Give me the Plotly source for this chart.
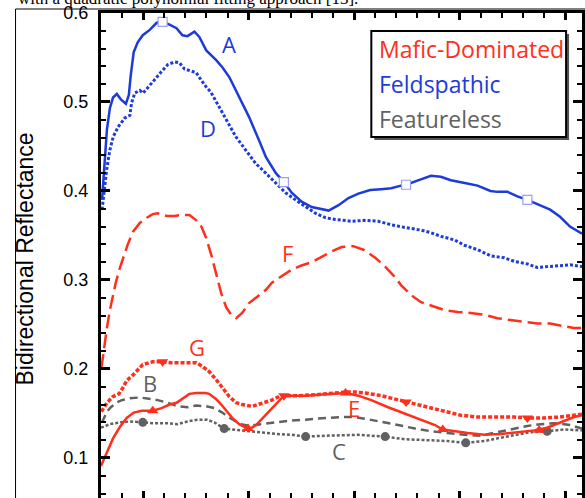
import plotly.graph_objects as go

BLUE = "#1c3bd9"
RED = "#ff2f1c"
GRAY = "#616161"

# ---- data (x: wavelength-like axis, y: bidirectional reflectance) ----
A_x = [0.305,0.314,0.328,0.342,0.357,0.375,0.394,0.418,0.432,0.441,0.455,0.474,0.498,0.531,0.564,0.592,0.625,0.658,0.686,0.710,0.743,0.766,0.799,0.846,0.875,0.908,0.955,1.002,1.049,1.082,1.129,1.167,1.204,1.251,1.299,1.346,1.379,1.426,1.473,1.520,1.576,1.628,1.675,1.723,1.746,1.803,1.864,1.911,1.958,2.024,2.085,2.146,2.179,2.227,2.274,2.321,2.368,2.429,2.476,2.523,2.580]
A_y = [0.390,0.424,0.469,0.493,0.505,0.509,0.503,0.498,0.508,0.530,0.556,0.567,0.575,0.581,0.589,0.590,0.587,0.583,0.575,0.574,0.579,0.573,0.558,0.547,0.539,0.528,0.506,0.483,0.457,0.438,0.420,0.410,0.398,0.388,0.382,0.380,0.378,0.384,0.392,0.397,0.401,0.402,0.403,0.406,0.407,0.412,0.417,0.416,0.412,0.409,0.406,0.400,0.399,0.399,0.394,0.390,0.385,0.379,0.371,0.360,0.352]
A_mx = [0.592,1.167,1.746,2.321]
A_my = [0.590,0.410,0.407,0.390]

D_x = [0.305,0.311,0.327,0.342,0.358,0.381,0.413,0.437,0.445,0.460,0.484,0.499,0.523,0.554,0.586,0.617,0.649,0.672,0.696,0.727,0.751,0.774,0.798,0.821,0.853,0.892,0.939,0.986,1.033,1.081,1.128,1.175,1.222,1.269,1.316,1.363,1.410,1.487,1.552,1.614,1.677,1.740,1.818,1.865,1.912,1.975,2.023,2.085,2.148,2.211,2.258,2.321,2.368,2.415,2.478,2.525,2.580]
D_y = [0.379,0.393,0.424,0.446,0.461,0.472,0.482,0.485,0.499,0.510,0.513,0.510,0.517,0.525,0.534,0.542,0.545,0.544,0.537,0.535,0.533,0.525,0.517,0.511,0.497,0.480,0.461,0.446,0.431,0.420,0.409,0.398,0.390,0.382,0.375,0.370,0.368,0.366,0.367,0.366,0.362,0.359,0.356,0.353,0.349,0.345,0.339,0.334,0.327,0.325,0.321,0.318,0.314,0.315,0.316,0.317,0.315]

F_x = [0.302,0.314,0.328,0.342,0.357,0.371,0.390,0.408,0.427,0.451,0.484,0.517,0.545,0.569,0.611,0.649,0.682,0.719,0.752,0.776,0.799,0.823,0.846,0.870,0.894,0.917,0.941,0.969,1.002,1.040,1.082,1.110,1.153,1.200,1.247,1.299,1.346,1.393,1.440,1.496,1.544,1.600,1.647,1.694,1.723,1.770,1.817,1.883,1.930,1.991,2.052,2.118,2.179,2.241,2.307,2.368,2.429,2.495,2.542,2.580]
F_y = [0.201,0.224,0.246,0.266,0.283,0.298,0.314,0.328,0.340,0.354,0.364,0.370,0.374,0.375,0.372,0.372,0.373,0.373,0.367,0.360,0.347,0.328,0.308,0.285,0.269,0.261,0.257,0.263,0.274,0.281,0.289,0.297,0.304,0.311,0.316,0.320,0.326,0.332,0.337,0.338,0.334,0.325,0.315,0.303,0.294,0.283,0.275,0.270,0.266,0.264,0.263,0.261,0.257,0.255,0.253,0.251,0.251,0.248,0.246,0.246]

G_x = [0.302,0.328,0.357,0.385,0.404,0.422,0.451,0.498,0.545,0.592,0.634,0.672,0.705,0.752,0.780,0.813,0.846,0.875,0.908,0.941,0.969,1.016,1.063,1.110,1.153,1.204,1.237,1.317,1.393,1.459,1.506,1.553,1.628,1.694,1.746,1.803,1.864,1.930,2.005,2.085,2.165,2.259,2.321,2.401,2.476,2.542,2.580]
G_y = [0.152,0.162,0.169,0.172,0.179,0.187,0.193,0.205,0.208,0.208,0.207,0.207,0.207,0.207,0.203,0.197,0.188,0.179,0.169,0.162,0.160,0.158,0.162,0.165,0.170,0.170,0.170,0.171,0.173,0.174,0.174,0.173,0.170,0.166,0.163,0.160,0.156,0.152,0.148,0.146,0.146,0.146,0.145,0.145,0.146,0.148,0.149]
G_mx = [0.592,1.167,1.746,2.321]
G_my = [0.208,0.170,0.163,0.145]

E_x = [0.300,0.314,0.333,0.357,0.390,0.422,0.455,0.493,0.545,0.587,0.625,0.658,0.686,0.719,0.752,0.795,0.813,0.846,0.870,0.894,0.922,0.955,0.988,1.007,1.035,1.063,1.096,1.129,1.167,1.204,1.270,1.332,1.393,1.459,1.520,1.581,1.661,1.741,1.817,1.883,1.920,1.977,2.038,2.118,2.194,2.274,2.354,2.415,2.476,2.542,2.580]
E_y = [0.091,0.098,0.109,0.122,0.135,0.145,0.151,0.153,0.153,0.156,0.160,0.162,0.167,0.172,0.173,0.173,0.172,0.166,0.160,0.153,0.145,0.138,0.134,0.133,0.137,0.144,0.152,0.161,0.170,0.170,0.170,0.171,0.172,0.173,0.170,0.165,0.157,0.150,0.143,0.137,0.132,0.130,0.128,0.126,0.127,0.129,0.131,0.134,0.140,0.146,0.148]
E_mx = [0.545,0.997,1.459,1.920,2.377]
E_my = [0.153,0.133,0.173,0.132,0.131]

B_x = [0.305,0.314,0.328,0.347,0.371,0.399,0.437,0.484,0.521,0.569,0.616,0.663,0.710,0.752,0.799,0.837,0.875,0.917,0.964,1.002,1.058,1.120,1.204,1.270,1.365,1.459,1.496,1.553,1.628,1.708,1.789,1.864,1.944,2.024,2.099,2.165,2.241,2.321,2.382,2.453,2.523,2.580]
B_y = [0.140,0.145,0.152,0.157,0.162,0.165,0.167,0.168,0.167,0.165,0.162,0.158,0.157,0.159,0.158,0.156,0.151,0.144,0.138,0.136,0.138,0.140,0.142,0.143,0.145,0.146,0.146,0.144,0.141,0.137,0.133,0.130,0.128,0.126,0.125,0.128,0.132,0.136,0.138,0.139,0.137,0.133]

C_x = [0.300,0.342,0.390,0.437,0.498,0.554,0.611,0.663,0.710,0.757,0.804,0.837,0.884,0.964,1.049,1.129,1.204,1.270,1.365,1.459,1.520,1.581,1.647,1.741,1.836,1.944,2.029,2.118,2.179,2.259,2.335,2.415,2.495,2.580]
C_y = [0.134,0.138,0.140,0.141,0.140,0.139,0.139,0.138,0.141,0.143,0.143,0.140,0.133,0.131,0.129,0.127,0.126,0.124,0.125,0.126,0.126,0.125,0.124,0.121,0.120,0.119,0.117,0.119,0.122,0.126,0.129,0.130,0.132,0.131]
C_mx = [0.498,0.884,1.270,1.647,2.029,2.415]
C_my = [0.140,0.133,0.124,0.124,0.117,0.130]

legend_labels = ["Mafic-Dominated", "Feldspathic", "Featureless"]
legend_colors = [RED, BLUE, GRAY]
curve_labels = ["A", "D", "F", "G", "B", "E", "C"]

fig = go.Figure()

def line(x, y, color, width, dash):
    fig.add_trace(go.Scatter(x=x, y=y, mode="lines",
                             line=dict(color=color, width=width, dash=dash),
                             showlegend=False, hoverinfo="skip"))

def marks(x, y, symbol, size, color, lcolor=None, lwidth=0):
    fig.add_trace(go.Scatter(x=x, y=y, mode="markers",
                             marker=dict(symbol=symbol, size=size, color=color,
                                         line=dict(color=lcolor or color, width=lwidth)),
                             showlegend=False, hoverinfo="skip"))

line(C_x, C_y, GRAY, 2.5, "3px,2px")
marks(C_mx, C_my, "circle", 9, GRAY)
line(B_x, B_y, GRAY, 2.5, "8px,5px")
line(E_x, E_y, RED, 2.5, "solid")
marks(E_mx, E_my, "triangle-up", 10, RED)
line(G_x, G_y, RED, 3.5, "4px,2px")
marks(G_mx, G_my, "triangle-down", 10, RED)
line(F_x, F_y, RED, 2.5, "14px,6px")
line(D_x, D_y, BLUE, 3, "3px,2px")
line(A_x, A_y, BLUE, 2.5, "solid")
marks(A_mx, A_my, "square", 9, "white", "#9c9cff", 1.2)

# curve labels
label_pos = {"A": (0.908, 0.565, BLUE), "D": (0.809, 0.471, BLUE),
             "F": (1.186, 0.330, RED), "G": (0.757, 0.225, RED),
             "B": (0.531, 0.184, GRAY), "E": (1.501, 0.156, RED),
             "C": (1.426, 0.108, GRAY)}
for lab in curve_labels:
    x, y, c = label_pos[lab]
    fig.add_annotation(x=x, y=y, xref="x", yref="y", text=lab, showarrow=False,
                       font=dict(family="Open Sans", size=22, color=c))

# legend box with shadow
fig.add_shape(type="rect", xref="paper", yref="paper", x0=0.5682, x1=0.9731, y0=0.7381, y1=0.9567,
              fillcolor="#555555", line=dict(width=0), layer="above")
fig.add_shape(type="rect", xref="paper", yref="paper", x0=0.5620, x1=0.9669, y0=0.7443, y1=0.9629,
              fillcolor="white", line=dict(color="black", width=2), layer="above")
for i, (t, c) in enumerate(zip(legend_labels, legend_colors)):
    py = 49 + 35 * i
    fig.add_annotation(x=(379 - 101) / 484, y=1 - (py - 13) / 485, xref="paper", yref="paper",
                       xanchor="left", yanchor="middle", text=t, showarrow=False,
                       font=dict(family="Open Sans", size=23, color=c))

# y-axis title
fig.add_annotation(x=(25 - 101) / 484, y=1 - (259 - 13) / 485, xref="paper", yref="paper",
                   text="Bidirectional Reflectance", textangle=-90, showarrow=False,
                   xanchor="center", yanchor="middle",
                   font=dict(family="Liberation Sans", size=23, color="black"))

# cropped caption of page text above the figure
fig.add_annotation(x=(15 - 101) / 484, y=1 + (13 - 9.5) / 485, xref="paper", yref="paper",
                   xanchor="left", yanchor="bottom", showarrow=False,
                   text="with a quadratic polynomial fitting approach [13].",
                   font=dict(family="Liberation Serif", size=17, color="black"))

# figure frame lines
fig.add_shape(type="line", xref="paper", yref="paper", x0=(15 - 101) / 484, x1=(15 - 101) / 484,
              y0=-0.05, y1=1 + (13 - 9) / 485, line=dict(color="black", width=1))
fig.add_shape(type="line", xref="paper", yref="paper", x0=(15 - 101) / 484, x1=1.05,
              y0=1 + (13 - 9) / 485, y1=1 + (13 - 9) / 485, line=dict(color="black", width=1))

axis_common = dict(showgrid=False, zeroline=False, showline=True, linecolor="black", linewidth=3,
                   mirror="allticks", ticks="inside", tickcolor="black", tickwidth=2.5)

fig.update_xaxes(range=[0.3, 2.58], tick0=0, dtick=0.5, ticklen=7, showticklabels=False,
                 minor=dict(dtick=0.1, tick0=0, ticks="inside", ticklen=5, tickwidth=2, tickcolor="black"),
                 **axis_common)
fig.update_yaxes(range=[0.055, 0.6], tick0=0, dtick=0.1, ticklen=9, tickformat=".1f",
                 tickfont=dict(family="Liberation Sans", size=18, color="black"),
                 ticklabelstandoff=6,
                 minor=dict(dtick=0.02, tick0=0, ticks="inside", ticklen=5, tickwidth=2, tickcolor="black"),
                 **axis_common)

fig.update_layout(width=585, height=498, margin=dict(l=101, r=0, t=13, b=0),
                  paper_bgcolor="white", plot_bgcolor="white", showlegend=False)

fig.write_html("out.html", config={"displayModeBar": False},
               post_script="document.body.style.margin='0';document.body.style.overflow='hidden';")
